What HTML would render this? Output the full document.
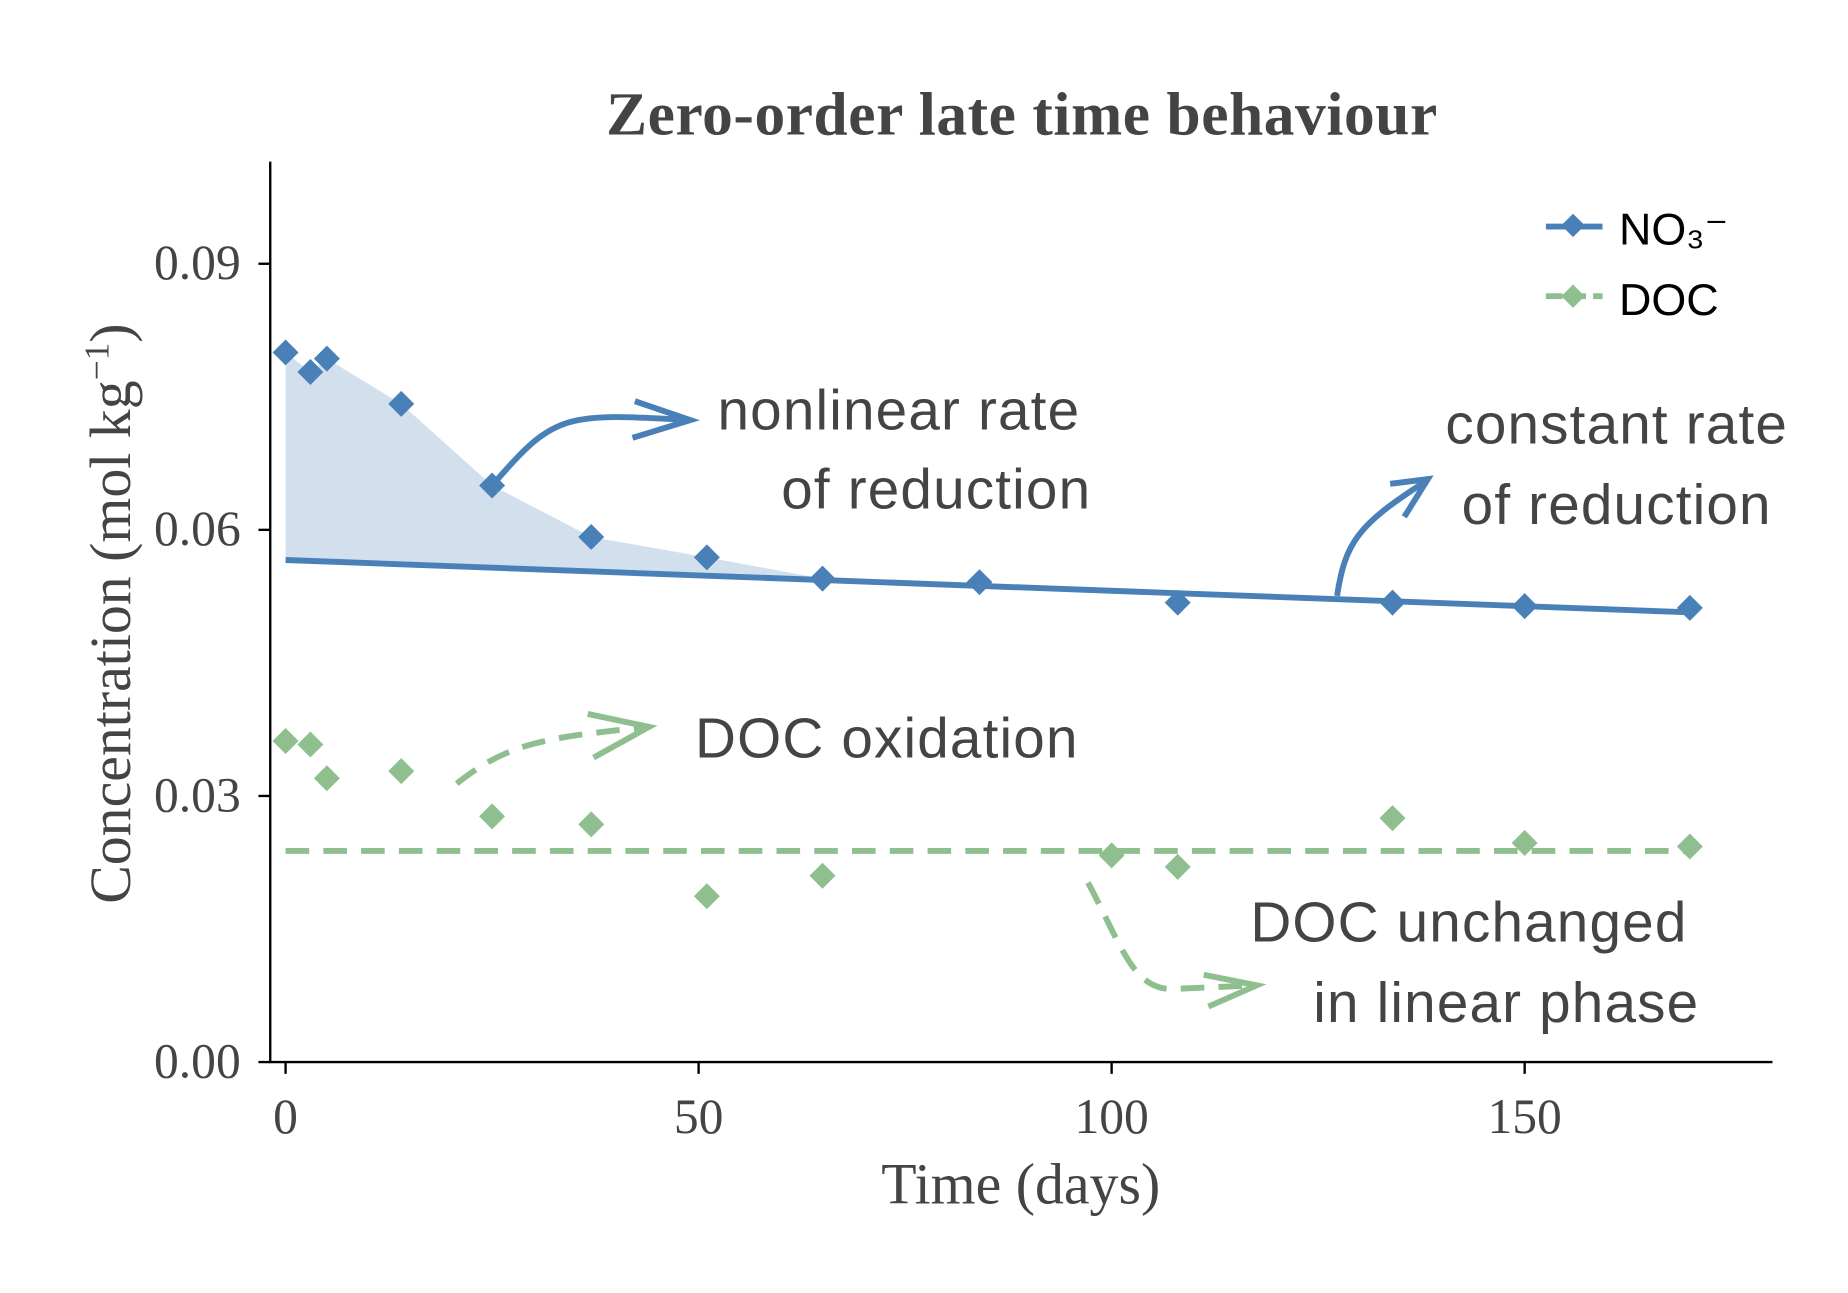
<!DOCTYPE html>
<html><head><meta charset="utf-8"><style>
html,body{margin:0;padding:0;background:#fff;}
svg{display:block;}
.serif{font-family:"Liberation Serif",serif;fill:#444;}
.sans{font-family:"Liberation Sans",sans-serif;fill:#444;}
.ann{letter-spacing:1px;}
</style></head><body>
<svg id="chart" width="1848" height="1293" viewBox="0 0 1566 1095.7" xmlns="http://www.w3.org/2000/svg">
<text class="serif" x="866" y="114" text-anchor="middle" font-size="52" font-weight="bold" letter-spacing="0.5">Zero-order late time behaviour</text>
<g id="plot"></g>
<line x1="229" y1="137" x2="229" y2="900" stroke="#000" stroke-width="2"/>
<line x1="228" y1="900" x2="1502" y2="900" stroke="#000" stroke-width="2"/>
<g id="ticks"></g>
<text class="serif" x="865" y="1020" text-anchor="middle" font-size="49">Time (days)</text>
<text class="serif" transform="translate(110,520) rotate(-90)" text-anchor="middle" font-size="49">Concentration (mol kg<tspan dy="-18" font-size="30">−1</tspan><tspan dy="18">)</tspan></text>
<g>
<line x1="1310" y1="192" x2="1358" y2="192" stroke="#4a80b8" stroke-width="5"/>
<rect x="1326" y="184" width="14" height="14" fill="#4a80b8" transform="rotate(45 1333 191)"/>
<text class="sans" x="1372" y="207" font-size="38" style="fill:#000">NO₃⁻</text>
<line x1="1310" y1="251" x2="1358" y2="251" stroke="#8fbf8f" stroke-width="5" stroke-dasharray="14,6"/>
<rect x="1326" y="244" width="14" height="14" fill="#8fbf8f" transform="rotate(45 1333 251)"/>
<text class="sans" x="1372" y="267" font-size="38" style="fill:#000">DOC</text>
</g>
<g>
<text class="sans ann" font-size="48"><tspan x="608" y="364">nonlinear rate</tspan><tspan x="662" y="431">of reduction</tspan></text>
<text class="sans ann" font-size="48" text-anchor="middle"><tspan x="1370" y="376">constant rate</tspan><tspan x="1370" y="444">of reduction</tspan></text>
<text class="sans ann" x="589" y="642" font-size="48">DOC oxidation</text>
<text class="sans ann" font-size="48" text-anchor="end"><tspan x="1430" y="798">DOC unchanged</tspan><tspan x="1440" y="866">in linear phase</tspan></text>
<path d="M420,408 C470,350 480,350 585,356" fill="none" stroke="#4a80b8" stroke-width="5"/>
<path d="M538,340 L585,356 L536,371" fill="none" stroke="#4a80b8" stroke-width="5"/>
<path d="M1133,505 C1140,460 1150,445 1208,408" fill="none" stroke="#4a80b8" stroke-width="5"/>
<path d="M1178,410 L1210,406 L1190,438" fill="none" stroke="#4a80b8" stroke-width="5"/>
<path d="M387,664 C430,630 460,625 550,616" fill="none" stroke="#8fbf8f" stroke-width="5" stroke-dasharray="20,12"/>
<path d="M498,605 L550,616 L503,642" fill="none" stroke="#8fbf8f" stroke-width="5"/>
<path d="M922,748 C950,800 960,840 995,838 L1065,835" fill="none" stroke="#8fbf8f" stroke-width="5" stroke-dasharray="20,12"/>
<path d="M1020,826 L1065,835 L1024,853" fill="none" stroke="#8fbf8f" stroke-width="5"/>
</g>
</svg>
<script>
const noDays = [0,3,5,14,25,37,51,65,84,108,134,150,170];
const noVals = [0.0800,0.0778,0.0793,0.0742,0.0650,0.0592,0.0569,0.0545,0.0541,0.0518,0.0518,0.0514,0.0512];
const docDays = [0,3,5,14,25,37,51,65,100,108,134,150,170];
const docVals = [0.0362,0.0358,0.0320,0.0328,0.0277,0.0268,0.0187,0.0210,0.0233,0.0220,0.0275,0.0247,0.0243];
const fitStart = [0,0.0566];
const fitEnd = [170,0.0507];
const docConst = 0.0238;
const fillEndDay = 65;
const xTicks = [0,50,100,150];
const yTicks = [0,0.03,0.06,0.09];
const yTickLabels = ["0.00","0.03","0.06","0.09"];

const NS="http://www.w3.org/2000/svg";
const X = d => 242 + d*7;
const Y = v => 900 - v*(451/0.06);
const fitV = d => fitStart[1] + (fitEnd[1]-fitStart[1])*(d-fitStart[0])/(fitEnd[0]-fitStart[0]);
const plot = document.getElementById('plot');
const ticks = document.getElementById('ticks');
function mk(tag, attrs, parent){const e=document.createElementNS(NS,tag);for(const k in attrs)e.setAttribute(k,attrs[k]);parent.appendChild(e);return e;}

let pts=[];
noDays.forEach((d,i)=>{ if(d<=fillEndDay) pts.push(X(d)+','+Y(noVals[i])); });
pts.push(X(fillEndDay)+','+Y(fitV(fillEndDay)));
pts.push(X(0)+','+Y(fitV(0)));
const fill = mk('polygon',{points:pts.join(' '),fill:'#d2e0ee'},plot);



const fit = mk('line',{x1:X(fitStart[0]),y1:Y(fitStart[1]),x2:X(fitEnd[0]),y2:Y(fitEnd[1]),stroke:'#4a80b8','stroke-width':5},plot);



const dl = mk('line',{x1:X(0),y1:Y(docConst),x2:X(170),y2:Y(docConst),stroke:'#8fbf8f','stroke-width':5,'stroke-dasharray':'20,12'},plot);



function diamond(d,v,color){
  const x=X(d),y=Y(v),s=11;
  return mk('polygon',{points:`${x},${y-s} ${x+s},${y} ${x},${y+s} ${x-s},${y}`,fill:color},plot);
}
noDays.forEach((d,i)=>{const p=diamond(d,noVals[i],'#4a80b8');

});
docDays.forEach((d,i)=>{const p=diamond(d,docVals[i],'#8fbf8f');

});

xTicks.forEach(t=>{
  mk('line',{x1:X(t),y1:900,x2:X(t),y2:910,stroke:'#000','stroke-width':2},ticks);
  const tx=mk('text',{x:X(t),y:960,'text-anchor':'middle','font-size':42,class:'serif'},ticks);
  tx.textContent=t;
  
  
});
yTicks.forEach((t,i)=>{
  mk('line',{x1:219,y1:Y(t),x2:229,y2:Y(t),stroke:'#000','stroke-width':2},ticks);
  const tx=mk('text',{x:204,y:Y(t)+13,'text-anchor':'end','font-size':42,class:'serif'},ticks);
  tx.textContent=yTickLabels[i];
  
  
});
</script>
</body></html>
